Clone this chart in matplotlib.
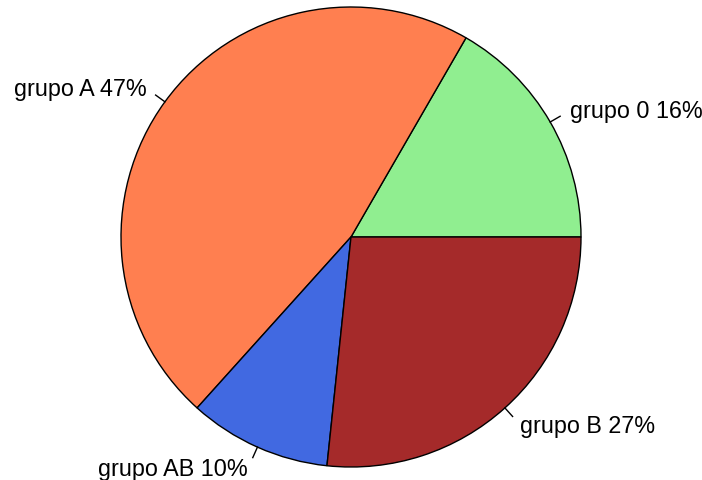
import numpy as np
import matplotlib
matplotlib.use("Agg")
import matplotlib.pyplot as plt

groups = ["grupo 0", "grupo A", "grupo AB", "grupo B"]
values = [5, 14, 3, 8]
pct_labels = ["16%", "47%", "10%", "27%"]
colors = ["#90EE90", "#FF7F50", "#4169E1", "#A52A2A"]

W, H = 702, 481
cx, cy, R = 351, 238, 230

fig = plt.figure(figsize=(W / 100, H / 100), dpi=100)
ax = fig.add_axes([0, 0, 1, 1])
ax.axis("off")

ax.pie(values, colors=colors, startangle=0, counterclock=True, radius=1,
       wedgeprops=dict(edgecolor="black", linewidth=1.0))
ax.set_xlim(-cx / R, (W - cx) / R)
ax.set_ylim(-(H - cy) / R, cy / R)
ax.set_aspect("auto")

total = sum(values)
cum = np.cumsum([0] + values)
for i, (g, p) in enumerate(zip(groups, pct_labels)):
    mid = (cum[i] + cum[i + 1]) / 2 / total * 2 * np.pi
    c, s = np.cos(mid), np.sin(mid)
    ax.plot([c, 1.05 * c], [s, 1.05 * s], color="black", lw=1.0)
    ax.text(1.1 * c, 1.1 * s, f"{g} {p}", ha="left" if c > 0 else "right",
            va="center", fontsize=16.8, family="Liberation Sans", color="black")

fig.savefig("out.png", dpi=100)
